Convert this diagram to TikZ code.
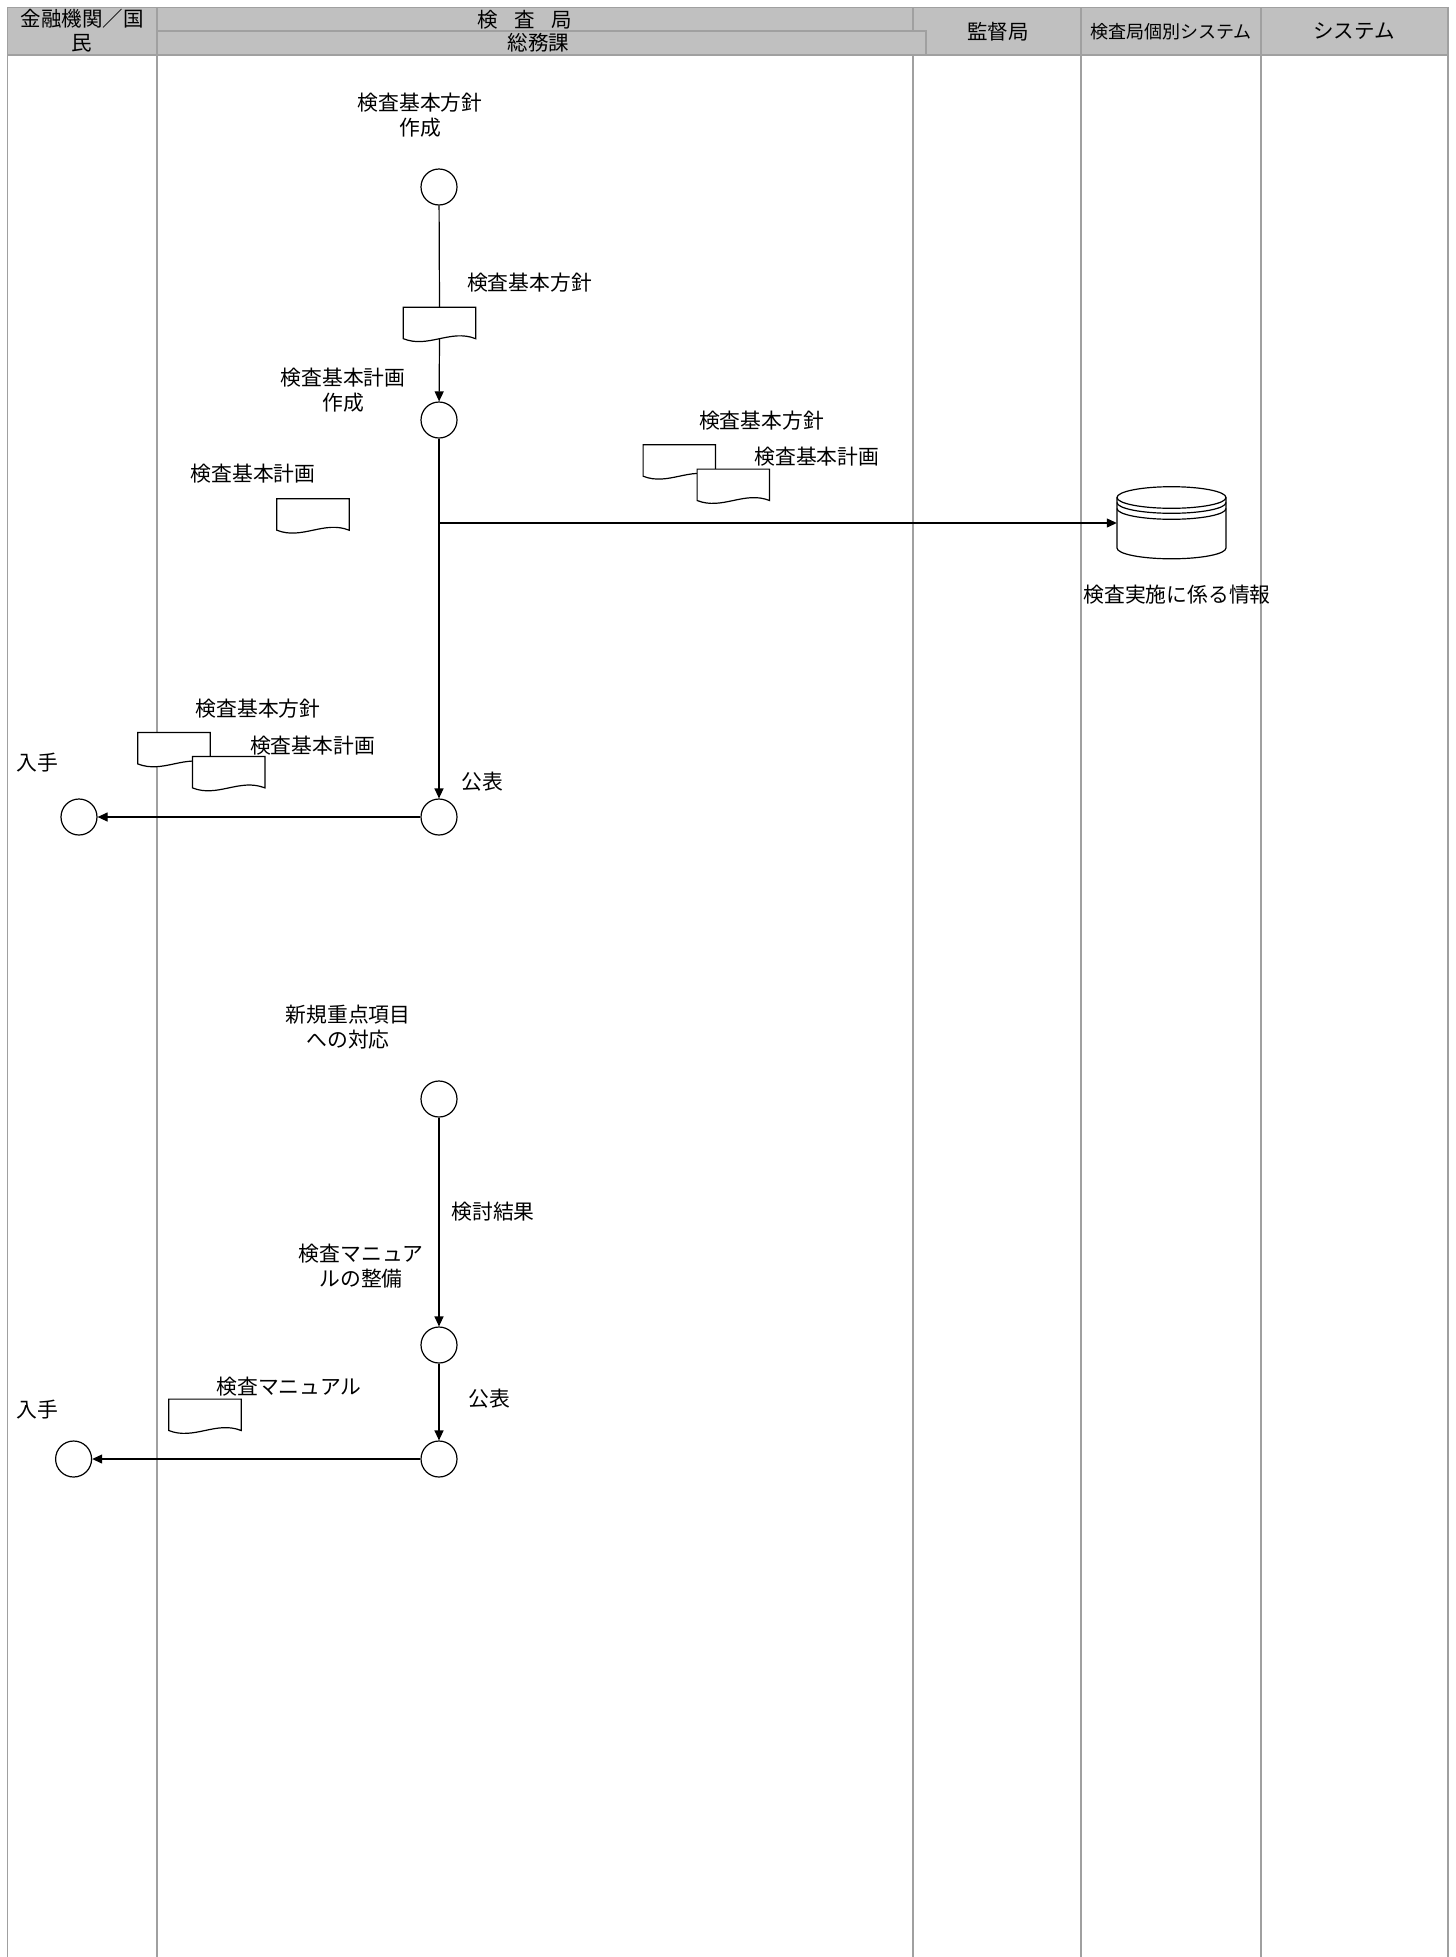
\documentclass[tikz,border=0pt]{standalone}
\usepackage{fontspec}
\setmainfont{Noto Sans CJK JP}
\usetikzlibrary{arrows.meta}
\definecolor{hdrfill}{RGB}{192,192,192}
\definecolor{laneline}{RGB}{160,160,160}
\newcommand\docdraw[1]{\draw[plain,fill=white] (#1.south west) -- (#1.north west) -- (#1.north east) -- (#1.south east) .. controls +(-25,-10) and +(25,10) .. (#1.south west) -- cycle;}
\begin{document}
\begin{tikzpicture}[x=1pt,y=-1pt,
  proc/.style={circle,draw,line width=1.2pt,minimum size=36pt,inner sep=0pt},
  lbl/.style={font=\fontsize{20.8}{25}\selectfont,align=center,inner sep=0pt},
  hdr/.style={font=\fontsize{20.5}{24}\selectfont,align=center,inner sep=0pt},
  hdrcell/.style={fill=hdrfill,draw=laneline,line width=1.5pt},
  docbox/.style={minimum width=72pt,minimum height=31pt,inner sep=0pt},
  dbbox/.style={minimum width=109pt,minimum height=73pt,inner sep=0pt},
  flow/.style={line width=1.2pt,-{Triangle[length=10pt,width=9pt]}},
  plain/.style={line width=1.2pt},
  lane/.style={draw=laneline,line width=1.5pt}]
\useasboundingbox (0,0) rectangle (1456,1957);
% lanes
\foreach \x in {7.5,157,913,1081,1261,1448} \draw[lane] (\x,55) -- (\x,1957);
% header
\filldraw[hdrcell] (7.5,7.5) rectangle (157,55);
\filldraw[hdrcell] (157,7.5) rectangle (913,31);
\filldraw[hdrcell] (913,7.5) rectangle (1081,55);
\filldraw[hdrcell] (1081,7.5) rectangle (1261,55);
\filldraw[hdrcell] (1261,7.5) rectangle (1448,55);
\filldraw[hdrcell] (157,31) rectangle (926,55);
\node[hdr] (h1) at (82,31) {金融機関／国\\民};
\node[hdr] (h2) at (524.6,19.5) {検\hspace{0.8em}査\hspace{0.8em}局};
\node[hdr] (h3) at (538.5,43) {総務課};
\node[hdr] (h4) at (998,31.5) {監督局};
\node[hdr,font=\fontsize{18}{22}\selectfont] (h5) at (1171,31.5) {検査局個別システム};
\node[hdr] (h6) at (1354,31.5) {システム};
% section 1
\node[lbl] (t1) at (420,115) {検査基本方針\\作成};
\node[proc] (c1) at (439,187) {};
\node[lbl] (t2) at (529.5,283) {検査基本方針};
\node[docbox] (d1) at (439.5,323) {};
\docdraw{d1}
\node[lbl] (t3) at (343,390.5) {検査基本計画\\作成};
\node[proc] (c2) at (439,420) {};
\node[lbl] (t4) at (253,474) {検査基本計画};
\node[docbox] (d2) at (313,514.5) {};
\docdraw{d2}
\node[lbl] (t5) at (761.5,420.7) {検査基本方針};
\node[lbl] (t6) at (816.8,457) {検査基本計画};
\node[docbox] (d3) at (679.3,460.5) {};
\docdraw{d3}
\node[docbox] (d4) at (733.3,484.8) {};
\docdraw{d4}
\node[dbbox] (db) at (1171.5,523) {};
\draw[plain,fill=white] (1117,497.5) -- (1117,548) arc[start angle=180,end angle=360,x radius=54.5pt,y radius=10.8pt] -- (1226,497.5);
\draw[plain] (1171.5,497.5) ellipse [x radius=54.5pt,y radius=10.8pt];
\draw[plain] (1117,502.5) arc[start angle=180,end angle=360,x radius=54.5pt,y radius=10.8pt];
\draw[plain] (1117,508.5) arc[start angle=180,end angle=360,x radius=54.5pt,y radius=10.8pt];
\node[lbl] (t7) at (1177,595) {検査実施に係る情報};
\node[proc] (c3) at (439,817) {};
\node[lbl] (t8) at (482.5,782) {公表};
\node[proc] (c3l) at (79,817) {};
\node[lbl] (t9) at (37.4,763) {入手};
\node[lbl] (t10) at (258,708.7) {検査基本方針};
\node[lbl] (t11) at (312.5,745.5) {検査基本計画};
\node[docbox] (d5) at (174,748.2) {};
\docdraw{d5}
\node[docbox] (d6) at (228.7,772.2) {};
\docdraw{d6}
\coordinate (br) at (439,523);
\draw[plain] (c1) -- (d1.north);
\draw[flow] (d1.south) -- (c2);
\draw[flow] (c2) -- (c3);
\draw[flow] (br) -- (db.west);
\draw[flow] (c3) -- (c3l);
% section 2
\node[lbl] (t12) at (348,1027.5) {新規重点項目\\への対応};
\node[proc] (c4) at (439,1099) {};
\node[lbl] (t13) at (493,1211.5) {検討結果};
\node[lbl] (t14) at (361,1266) {検査マニュア\\ルの整備};
\node[proc] (c5) at (439,1345) {};
\node[lbl] (t15) at (489,1398.6) {公表};
\node[lbl] (t16) at (289,1386.7) {検査マニュアル};
\node[docbox] (d7) at (205,1414.8) {};
\docdraw{d7}
\node[proc] (c6) at (439,1459) {};
\node[proc] (c6l) at (73.6,1459) {};
\node[lbl] (t17) at (37.4,1410) {入手};
\draw[flow] (c4) -- (c5);
\draw[flow] (c5) -- (c6);
\draw[flow] (c6) -- (c6l);
\end{tikzpicture}
\end{document}
